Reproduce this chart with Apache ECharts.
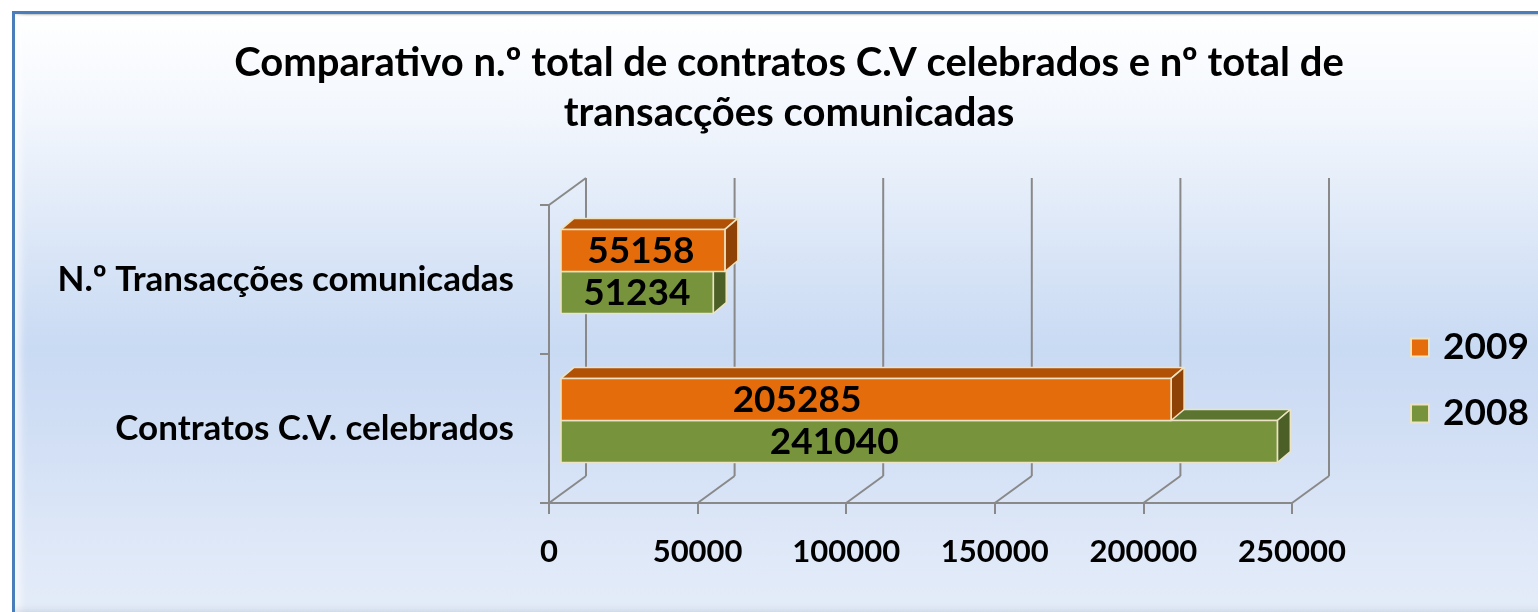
<!DOCTYPE html>
<html>
<head>
<meta charset="utf-8">
<script src="https://cdn.jsdelivr.net/npm/echarts@6/dist/echarts.min.js"></script>
<style>
  html, body { margin: 0; padding: 0; background: #ffffff; overflow: hidden; }
  #frame {
    position: absolute; left: 12px; top: 11px; width: 1540px; height: 610px;
    box-sizing: border-box;
    border-left: 3px solid #4a7ebb; border-top: 3px solid #4a7ebb;
    background: linear-gradient(to bottom, #ffffff 0%, #f3f7fd 16%, #dfe9f8 34%, #c9daf3 55%, #d3e0f5 72%, #e0e9f8 90%, #e4ecf9 100%);
    box-shadow: inset 0 -16px 10px -8px rgba(110,120,140,0.35), inset 14px 0 10px -10px rgba(255,255,255,0.9), inset 0 2px 2px -1px rgba(120,120,120,0.5);
  }
  #chart { position: absolute; left: 0; top: 0; width: 1538px; height: 612px; }
</style>
</head>
<body>
<div id="frame"></div>
<div id="chart"></div>
<script>
const categories = ['Contratos C.V. celebrados', 'N.º Transacções comunicadas'];
const values2009 = [205285, 55158];
const values2008 = [241040, 51234];
const xTicks = [0, 50000, 100000, 150000, 200000, 250000];
const seriesNames = ['2009', '2008'];

const FONT = 'Lato';
const LINE = '#898989';
const BORDER = '#ebe3c3';
const DEPTH = [37, -27];      // wall depth of the 3D box
const BAR_OFF = [12, -8];     // bars sit one third into the depth
const BAR_DEPTH = [13, -11];  // thickness of each bar box

const palette = {
  '2009': { front: '#e46c0a', top: '#b05106', side: '#8f4205' },
  '2008': { front: '#77933c', top: '#5b7430', side: '#4b5f27' }
};

function barRender(name, upper) {
  const col = palette[name];
  return function (params, api) {
    const v = api.value(0), i = api.value(1);
    const c0 = api.coord([0, i]);
    const c1 = api.coord([v, i]);
    const band = api.size([0, 1])[1];
    const h = band * 0.282;
    const center = c0[1] + BAR_OFF[1];
    const yTop = upper ? center - h : center;
    const yBot = yTop + h;
    const x0 = c0[0] + BAR_OFF[0];
    const x1 = c1[0] + BAR_OFF[0];
    const w = x1 - x0;
    const dx = BAR_DEPTH[0], dy = BAR_DEPTH[1];
    const lx = x0 + w / 2 - Math.max(0, w - 150) * 0.15;
    const stroke = { stroke: BORDER, lineWidth: 1.6, lineJoin: 'round' };
    return {
      type: 'group',
      children: [
        { type: 'polygon', shape: { points: [[x0, yTop], [x1, yTop], [x1 + dx, yTop + dy], [x0 + dx, yTop + dy]] },
          style: Object.assign({ fill: col.top }, stroke) },
        { type: 'polygon', shape: { points: [[x1, yTop], [x1 + dx, yTop + dy], [x1 + dx, yBot + dy], [x1, yBot]] },
          style: Object.assign({ fill: col.side }, stroke) },
        { type: 'rect', shape: { x: x0, y: yTop, width: w, height: h },
          style: Object.assign({ fill: col.front }, stroke) },
        { type: 'text', x: lx, y: (yTop + yBot) / 2 + 1,
          style: { text: String(v), fill: '#000', font: 'bold 37px ' + FONT, align: 'center', verticalAlign: 'middle' } }
      ]
    };
  };
}

function frameRender(params, api) {
  const v = api.value(0);
  const cs = params.coordSys;
  const x = api.coord([v, 0])[0];
  const bottom = cs.y + cs.height;
  const top = cs.y;
  const st = { stroke: LINE, lineWidth: 2 };
  const children = [
    { type: 'line', shape: { x1: x, y1: bottom, x2: x + DEPTH[0], y2: bottom + DEPTH[1] }, style: st },
    { type: 'line', shape: { x1: x + DEPTH[0], y1: bottom + DEPTH[1], x2: x + DEPTH[0], y2: top + DEPTH[1] }, style: st }
  ];
  if (params.dataIndex === 0) {
    children.push({ type: 'line', shape: { x1: x, y1: top, x2: x + DEPTH[0], y2: top + DEPTH[1] }, style: st });
  }
  return { type: 'group', children: children };
}

const chart = echarts.init(document.getElementById('chart'), null, { renderer: 'canvas' });
chart.setOption({
  backgroundColor: 'transparent',
  animation: false,
  title: {
    text: 'Comparativo n.º total de contratos C.V celebrados e nº total de\ntransacções comunicadas',
    left: 784, top: 33, textAlign: 'center',
    textStyle: { fontFamily: FONT, fontWeight: 'bold', fontSize: 40, lineHeight: 50, color: '#000' }
  },
  legend: {
    data: seriesNames,
    orient: 'vertical', left: 1405, top: 324,
    itemWidth: 18, itemHeight: 18, itemGap: 29,
    icon: 'rect',
    textStyle: { fontFamily: FONT, fontWeight: 'bold', fontSize: 37, lineHeight: 36, color: '#000', padding: [0, 0, 0, 9] }
  },
  grid: { left: 549, top: 205, width: 743, height: 298 },
  xAxis: {
    type: 'value', min: xTicks[0], max: xTicks[xTicks.length - 1], interval: xTicks[1] - xTicks[0],
    axisLine: { show: true, lineStyle: { color: LINE, width: 2 } },
    axisTick: { show: true, length: 11, lineStyle: { color: LINE, width: 2 } },
    splitLine: { show: false },
    axisLabel: { margin: 33, fontFamily: FONT, fontWeight: 'bold', fontSize: 31, color: '#000',
      formatter: v => String(v) }
  },
  yAxis: {
    type: 'category', data: categories,
    axisLine: { show: true, lineStyle: { color: LINE, width: 2 } },
    axisTick: { show: true, length: 9, lineStyle: { color: LINE, width: 2 } },
    axisLabel: { margin: 35, fontFamily: FONT, fontWeight: 'bold', fontSize: 35, color: '#000', padding: [7, 0, 0, 0] }
  },
  series: [
    { type: 'custom', name: 'frame', silent: true, z: 1, renderItem: frameRender,
      encode: { x: 0, y: 1 }, data: xTicks.map(v => [v, 0]) },
    { type: 'custom', name: '2008', z: 3, renderItem: barRender('2008', false),
      itemStyle: { color: palette['2008'].front, borderColor: BORDER, borderWidth: 1.5 },
      encode: { x: 0, y: 1 }, data: values2008.map((v, i) => [v, i]) },
    { type: 'custom', name: '2009', z: 4, renderItem: barRender('2009', true),
      itemStyle: { color: palette['2009'].front, borderColor: BORDER, borderWidth: 1.5 },
      encode: { x: 0, y: 1 }, data: values2009.map((v, i) => [v, i]) }
  ]
});
</script>
</body>
</html>
